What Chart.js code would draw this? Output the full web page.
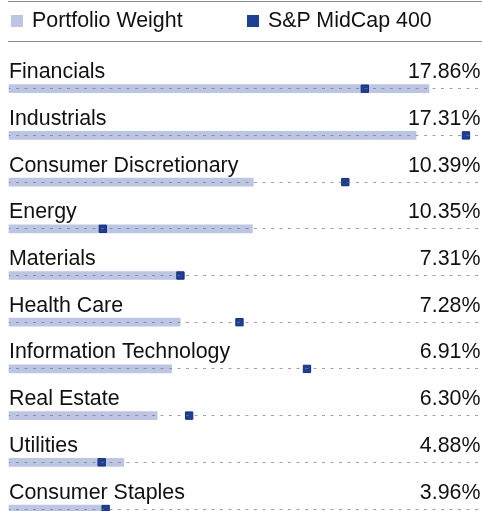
<!DOCTYPE html>
<html>
	<head>
		<title>Sector Weights</title>
		<script src="https://cdn.jsdelivr.net/npm/chart.js@4.4.1/dist/chart.umd.min.js"></script>
		<style>
			body { margin: 0; background: #fff; font-family: "Liberation Sans", Arial, sans-serif; }
			#wrap { position: relative; width: 482px; height: 511px; }
			#legend { position: absolute; left: 8px; right: 0; top: 1px; height: 39px; border-top: 1.5px solid #8a8a8a; border-bottom: 1.5px solid #8a8a8a; }
			#legend span.item { position: absolute; top: 6px; font-size: 21.4px; color: #111; white-space: nowrap; }
			#legend span.box { display: inline-block; width: 12px; height: 12px; margin-right: 9px; vertical-align: 0px; }
		</style>
	</head>
	<body>
		<div id="wrap">
			<canvas id="myChart"></canvas>
			<div id="legend"></div>
		</div>
		<script>
			// dane
			const sectors = ["Financials", "Industrials", "Consumer Discretionary", "Energy", "Materials", "Health Care", "Information Technology", "Real Estate", "Utilities", "Consumer Staples"];
			const portfolio = [17.86, 17.31, 10.39, 10.35, 7.31, 7.28, 6.91, 6.30, 4.88, 3.96];
			const benchmark = [15.13, 19.43, 14.30, 3.99, 7.29, 9.80, 12.67, 7.66, 3.94, 4.11];
			const seriesNames = ["Portfolio Weight", "S&P MidCap 400"];
			const seriesColors = ["#bcc5e4", "#1d3f96"];

			// legenda (html)
			const legendLeft = [3, 239];
			const legend = document.getElementById('legend');
			seriesNames.forEach(function (name, i) {
				const item = document.createElement('span');
				item.className = 'item';
				item.style.left = legendLeft[i] + 'px';
				item.innerHTML = '<span class="box" style="background:' + seriesColors[i] + '"></span>';
				item.appendChild(document.createTextNode(name));
				legend.appendChild(item);
			});

			// napisy nad paskami
			const rowText = {
				id: 'rowText',
				afterDraw: function (chart) {
					const ctx = chart.ctx;
					const yScale = chart.scales.y;
					ctx.save();
					ctx.font = '21.4px "Liberation Sans", Arial, sans-serif';
					ctx.fillStyle = '#111';
					ctx.textBaseline = 'alphabetic';
					sectors.forEach(function (name, i) {
						const y = yScale.getPixelForValue(i) - 10.5;
						ctx.textAlign = 'left';
						ctx.fillText(name, chart.chartArea.left, y);
						ctx.textAlign = 'right';
						ctx.fillText(portfolio[i].toFixed(2) + '%', chart.width - 1.5, y);
					});
					ctx.restore();
				}
			};

			const chart = new Chart(document.getElementById('myChart').getContext('2d'), {
				type: 'bar',
				data: {
					labels: sectors,
					datasets: [{
						label: seriesNames[0],
						data: portfolio,
						backgroundColor: seriesColors[0],
						barThickness: 8,
						order: 2,
						clip: false
					}, {
						type: 'line',
						label: seriesNames[1],
						data: benchmark,
						showLine: false,
						pointStyle: 'rect',
						pointRadius: 5.2,
						pointBackgroundColor: seriesColors[1],
						pointBorderColor: '#12307f',
						pointBorderWidth: 1,
						order: 1,
						clip: false
					}]
				},
				options: {
					indexAxis: 'y',
					responsive: true,
					maintainAspectRatio: false,
					animation: false,
					layout: { autoPadding: false, padding: { top: 88.7, bottom: 2, left: 9, right: 1 } },
					plugins: { legend: { display: false }, tooltip: { enabled: false } },
					scales: {
						x: { display: false, min: 0, max: 20.07 },
						y: {
							offset: false,
							ticks: { display: false },
							border: { display: false, dash: [3, 5.5], dashOffset: -7 },
							grid: {
								z: 1,
								offset: false,
								drawTicks: false,
								color: 'rgba(120,120,120,0.7)',
								lineWidth: 1
							}
						}
					}
				},
				plugins: [rowText]
			});
		</script>
	</body>
</html>
